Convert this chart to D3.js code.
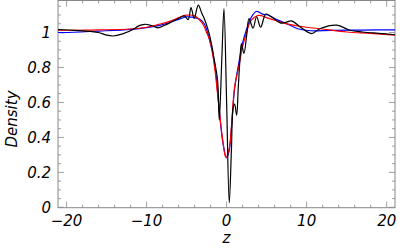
<!DOCTYPE html>
<html>
<head>
<meta charset="utf-8">
<script src="https://cdn.jsdelivr.net/npm/d3@7"></script>
<style>
  body { margin: 0; background: #fff; }
  text { font-family: "DejaVu Sans", sans-serif; font-style: italic; font-size: 15px; fill: #000; }
</style>
</head>
<body>
<svg id="chart" width="403" height="249"></svg>
<script>
// values: [z, density]
var blackCurve = [[-21.1,1.017],[-19,1.012],[-17,1.006],[-16,1.0],[-15,0.985],[-14.2,0.98],[-13,0.992],[-11.7,1.017],[-11,1.038],[-10.25,1.047],[-9.4,1.04],[-8.6,1.027],[-7.8,1.04],[-7.1,1.055],[-6.5,1.07],[-5.8,1.085],[-5.3,1.095],[-4.8,1.074],[-4.45,1.143],[-4.05,1.08],[-3.55,1.156],[-3.1,1.11],[-2.8,1.08],[-2.3,1.013],[-1.9,0.937],[-1.6,0.86],[-1.13,0.727],[-0.92,0.5],[-0.6,0.85],[-0.33,1.137],[0,0.6],[0.33,0.026],[0.6,0.33],[0.83,0.575],[1.0,0.59],[1.25,0.527],[1.45,0.68],[1.66,0.84],[1.85,0.937],[2.16,0.88],[2.5,0.98],[2.8,1.08],[3.3,1.025],[3.75,1.09],[4.25,1.03],[4.9,1.105],[5.6,1.09],[6.7,1.055],[7.4,1.058],[8.1,1.066],[9.2,1.032],[10.6,0.994],[11.7,1.023],[13.75,1.042],[15.4,1.013],[17,1.003],[19,0.995],[21.1,0.987]];
var blueCurve = [[-21.1,1.0],[-20,1.0],[-16,1.008],[-12,1.018],[-10,1.028],[-8,1.045],[-6,1.075],[-5,1.09],[-4.5,1.088],[-4,1.085],[-3.3,1.075],[-2.8,1.05],[-2.2,0.97],[-1.5,0.82],[-1,0.6],[-0.5,0.38],[0,0.283],[0.3,0.32],[0.6,0.45],[1,0.68],[1.5,0.82],[2,0.94],[2.5,1.02],[3,1.08],[3.7,1.12],[4.5,1.105],[5.2,1.1],[6,1.08],[7,1.06],[8,1.04],[9,1.02],[10.5,1.01],[13,1.012],[17,1.014],[21.1,1.015]];
var redCurve = [[-21.1,1.014],[-20,1.013],[-16,1.015],[-12,1.02],[-10,1.03],[-8.6,1.045],[-7,1.065],[-6,1.085],[-5,1.099],[-4,1.095],[-3,1.05],[-2.5,1.0],[-2,0.94],[-1.5,0.8],[-1,0.59],[-0.5,0.39],[-0.1,0.285],[0.3,0.33],[0.6,0.46],[1,0.69],[1.5,0.8],[2,0.92],[2.5,1.0],[3,1.065],[4,1.098],[5,1.085],[6,1.07],[7,1.055],[8,1.045],[10,1.03],[12,1.02],[15,1.003],[18,0.995],[21.1,0.985]];

var xTicks = [-20, -10, 0, 10, 20];
var yTicks = [0, 0.2, 0.4, 0.6, 0.8, 1];
var yTickLabels = ["0", "0.2", "0.4", "0.6", "0.8", "1"];

var svg = d3.select("#chart");
var plotLeft = 58, plotRight = 395, plotTop = 0.5, plotBottom = 207.7;

var x = d3.scaleLinear().domain([-21.07, 21.04]).range([plotLeft, plotRight]);
var y = d3.scaleLinear().domain([-0.002, 1.183]).range([plotBottom, plotTop]);

svg.append("clipPath").attr("id", "clip")
  .append("rect").attr("x", plotLeft).attr("y", plotTop).attr("width", plotRight - plotLeft).attr("height", plotBottom - plotTop);

var frameColor = "#888";

// ticks, inward on all four sides
var xMinor = d3.range(-20, 21, 2);
var yMinor = d3.range(0, 1.18, 0.05);
var ticks = svg.append("g").attr("stroke", frameColor).attr("stroke-width", 0.8);
xMinor.forEach(function(v) {
  var len = xTicks.indexOf(v) !== -1 ? 6 : 3;
  ticks.append("line").attr("x1", x(v)).attr("x2", x(v)).attr("y1", plotBottom).attr("y2", plotBottom - len);
  ticks.append("line").attr("x1", x(v)).attr("x2", x(v)).attr("y1", plotTop).attr("y2", plotTop + len);
});
yMinor.forEach(function(v, i) {
  var len = i % 4 === 0 ? 6 : 3;
  ticks.append("line").attr("x1", plotLeft).attr("x2", plotLeft + len).attr("y1", y(v)).attr("y2", y(v));
  ticks.append("line").attr("x1", plotRight).attr("x2", plotRight - len).attr("y1", y(v)).attr("y2", y(v));
});

svg.append("rect")
  .attr("x", plotLeft).attr("y", plotTop).attr("width", plotRight - plotLeft).attr("height", plotBottom - plotTop)
  .attr("fill", "none").attr("stroke", frameColor).attr("stroke-width", 1);

// tick labels
svg.append("g").selectAll("text").data(xTicks).enter().append("text")
  .attr("x", function(d) { return x(d); })
  .attr("y", 226)
  .attr("text-anchor", "middle")
  .text(function(d) { return d < 0 ? "\u2212" + Math.abs(d) : d; });

svg.append("g").selectAll("text").data(yTicks).enter().append("text")
  .attr("x", 51)
  .attr("y", function(d) { return y(d); })
  .attr("dy", "0.36em")
  .attr("text-anchor", "end")
  .text(function(d, i) { return yTickLabels[i]; });

svg.append("text").attr("x", 226.5).attr("y", 243).attr("text-anchor", "middle").text("z");
svg.append("text").attr("transform", "translate(17,119) rotate(-90)").attr("text-anchor", "middle").text("Density");

var line = d3.line()
  .x(function(d) { return x(d[0]); })
  .y(function(d) { return y(d[1]); })
  .curve(d3.curveCatmullRom.alpha(0.5));

var curves = svg.append("g").attr("clip-path", "url(#clip)");
[[blueCurve, "#0000ff"], [redCurve, "#ff0000"], [blackCurve, "#000000"]].forEach(function(c) {
  curves.append("path")
    .attr("d", line(c[0]))
    .attr("fill", "none")
    .attr("stroke", c[1])
    .attr("stroke-width", 1.2);
});
</script>
</body>
</html>
